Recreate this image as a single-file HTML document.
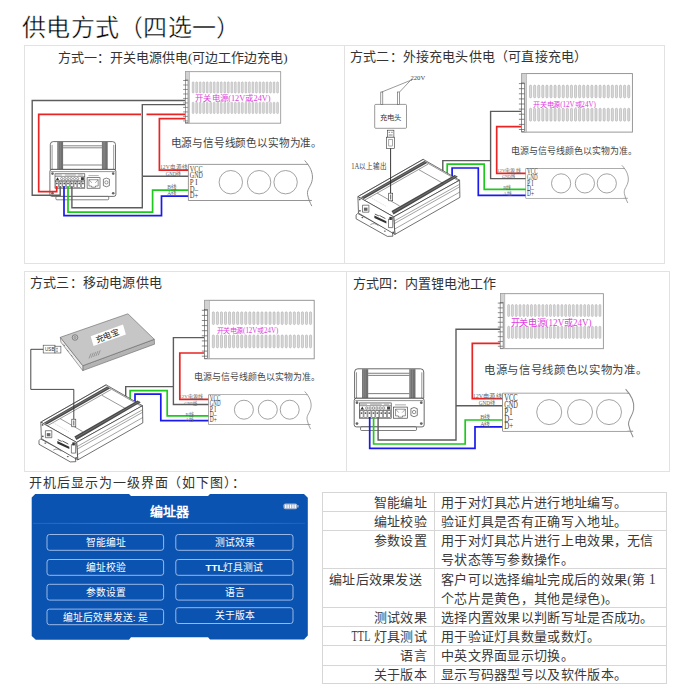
<!DOCTYPE html>
<html lang="zh-CN">
<head>
<meta charset="utf-8">
<style>
*{margin:0;padding:0;box-sizing:border-box}
html,body{width:684px;height:690px;overflow:hidden;background:#fff}
body{position:relative;font-family:"Liberation Serif",serif;color:#222}
.a{position:absolute;white-space:nowrap}
.title{left:22px;top:12px;font-size:24px;letter-spacing:0.3px;line-height:32px;color:#000;-webkit-text-stroke:0.4px #fff}
.pt{font-size:13px;line-height:16px;color:#333}
.bx{position:absolute;border:1px solid #e2e2e2}
#tbl{position:absolute;left:322px;top:492px;width:345px;height:192px}
#tbl .t{margin-top:1px}
#tbl .h{position:absolute;left:0;width:345px;height:1px;background:#d6d6d6}
#tbl .v{position:absolute;top:0;width:1px;height:192px;background:#d6d6d6}
#tbl .t{position:absolute;font-size:13px;letter-spacing:0.3px;line-height:16px;color:#3a3a3a;white-space:nowrap}
svg{position:absolute;left:0;top:0}
</style>
</head>
<body>
<div class="a title">供电方式（四选一）</div>
<div class="bx" style="left:24px;top:45px;width:321px;height:219px"></div>
<div class="bx" style="left:344px;top:45px;width:321px;height:219px"></div>
<div class="bx" style="left:24px;top:271px;width:323px;height:201px"></div>
<div class="bx" style="left:346px;top:271px;width:324px;height:201px"></div>
<div class="a pt" style="left:58px;top:50px">方式一：开关电源供电(可边工作边充电)</div>
<div class="a pt" style="left:350px;top:49px;letter-spacing:0.18px">方式二：外接充电头供电（可直接充电）</div>
<div class="a pt" style="left:30px;top:275px;letter-spacing:0.2px">方式三：移动电源供电</div>
<div class="a pt" style="left:353px;top:276px">方式四：内置锂电池工作</div>
<div class="a pt" style="left:29px;top:475px;letter-spacing:0.95px">开机后显示为一级界面（如下图）：</div>
<svg width="684" height="690" viewBox="0 0 684 690" style="font-family:'Liberation Serif',serif">
<defs><g id="psu">
<rect x="0" y="0" width="110.6" height="58.5" fill="#fff" stroke="#8c8c8c" stroke-width="0.9"/>
<rect x="0" y="0" width="4.7" height="58.5" fill="#d2d2d2" stroke="#9a9a9a" stroke-width="0.5"/>
<rect x="-0.4" y="9.4" width="3.2" height="48.6" fill="#fff" stroke="#555" stroke-width="0.6"/>
<path d="M-2.9 10H2.6 M-2.9 15.1H2.6 M-2.9 20.2H2.6 M-2.9 25.3H2.6 M-2.9 30.4H2.6 M-2.9 35.5H2.6 M-2.9 40.6H2.6 M-2.9 45.7H2.6 M-2.9 50.8H2.6 M-2.9 55.9H2.6" stroke="#555" stroke-width="0.7"/>
<g fill="#dadada" stroke="#a2a2a2" stroke-width="0.5"><rect x="7.7" y="11.5" width="2.1" height="12.8" rx="1.05"/><rect x="7.7" y="34.6" width="2.1" height="13" rx="1.05"/><rect x="11.79" y="11.5" width="2.1" height="12.8" rx="1.05"/><rect x="11.79" y="34.6" width="2.1" height="13" rx="1.05"/><rect x="15.88" y="11.5" width="2.1" height="12.8" rx="1.05"/><rect x="15.88" y="34.6" width="2.1" height="13" rx="1.05"/><rect x="19.97" y="11.5" width="2.1" height="12.8" rx="1.05"/><rect x="19.97" y="34.6" width="2.1" height="13" rx="1.05"/><rect x="24.06" y="11.5" width="2.1" height="12.8" rx="1.05"/><rect x="24.06" y="34.6" width="2.1" height="13" rx="1.05"/><rect x="28.15" y="11.5" width="2.1" height="12.8" rx="1.05"/><rect x="28.15" y="34.6" width="2.1" height="13" rx="1.05"/><rect x="32.24" y="11.5" width="2.1" height="12.8" rx="1.05"/><rect x="32.24" y="34.6" width="2.1" height="13" rx="1.05"/><rect x="36.33" y="11.5" width="2.1" height="12.8" rx="1.05"/><rect x="36.33" y="34.6" width="2.1" height="13" rx="1.05"/><rect x="40.42" y="11.5" width="2.1" height="12.8" rx="1.05"/><rect x="40.42" y="34.6" width="2.1" height="13" rx="1.05"/><rect x="44.51" y="11.5" width="2.1" height="12.8" rx="1.05"/><rect x="44.51" y="34.6" width="2.1" height="13" rx="1.05"/><rect x="48.6" y="11.5" width="2.1" height="12.8" rx="1.05"/><rect x="48.6" y="34.6" width="2.1" height="13" rx="1.05"/><rect x="52.69" y="11.5" width="2.1" height="12.8" rx="1.05"/><rect x="52.69" y="34.6" width="2.1" height="13" rx="1.05"/><rect x="56.78" y="11.5" width="2.1" height="12.8" rx="1.05"/><rect x="56.78" y="34.6" width="2.1" height="13" rx="1.05"/><rect x="60.87" y="11.5" width="2.1" height="12.8" rx="1.05"/><rect x="60.87" y="34.6" width="2.1" height="13" rx="1.05"/><rect x="64.96" y="11.5" width="2.1" height="12.8" rx="1.05"/><rect x="64.96" y="34.6" width="2.1" height="13" rx="1.05"/><rect x="69.05" y="11.5" width="2.1" height="12.8" rx="1.05"/><rect x="69.05" y="34.6" width="2.1" height="13" rx="1.05"/><rect x="73.14" y="11.5" width="2.1" height="12.8" rx="1.05"/><rect x="73.14" y="34.6" width="2.1" height="13" rx="1.05"/><rect x="77.23" y="11.5" width="2.1" height="12.8" rx="1.05"/><rect x="77.23" y="34.6" width="2.1" height="13" rx="1.05"/><rect x="81.32" y="11.5" width="2.1" height="12.8" rx="1.05"/><rect x="81.32" y="34.6" width="2.1" height="13" rx="1.05"/><rect x="85.41" y="11.5" width="2.1" height="12.8" rx="1.05"/><rect x="85.41" y="34.6" width="2.1" height="13" rx="1.05"/><rect x="89.5" y="11.5" width="2.1" height="12.8" rx="1.05"/><rect x="89.5" y="34.6" width="2.1" height="13" rx="1.05"/><rect x="93.59" y="11.5" width="2.1" height="12.8" rx="1.05"/><rect x="93.59" y="34.6" width="2.1" height="13" rx="1.05"/><rect x="97.68" y="11.5" width="2.1" height="12.8" rx="1.05"/><rect x="97.68" y="34.6" width="2.1" height="13" rx="1.05"/><rect x="101.77" y="11.5" width="2.1" height="12.8" rx="1.05"/><rect x="101.77" y="34.6" width="2.1" height="13" rx="1.05"/><rect x="105.86" y="11.5" width="2.1" height="12.8" rx="1.05"/><rect x="105.86" y="34.6" width="2.1" height="13" rx="1.05"/></g>
</g><g id="strip">
<path d="M0 0H98.9 M0 29.8H102 M0 0V29.8" stroke="#8c8c8c" stroke-width="0.8" fill="none"/>
<path d="M96.1 -3.2C100.5 1.5 103.2 7 102.4 12.5C101.6 18 97.6 20.5 98.5 25C99.2 28.6 100.6 31.8 102 34.5" stroke="#8c8c8c" stroke-width="0.8" fill="none"/>
<rect x="0.4" y="0.4" width="97" height="29" fill="#fff"/>
<g font-family="Liberation Serif" font-size="7.4" fill="#3a3a3a"><text x="1.2" y="5.9" textLength="10.6" lengthAdjust="spacingAndGlyphs">VCC</text><text x="1.2" y="11.3" textLength="10.7" lengthAdjust="spacingAndGlyphs">GND</text><text x="1.2" y="17" textLength="6.3" lengthAdjust="spacingAndGlyphs">P I</text><text x="1.2" y="22.5" textLength="6.8" lengthAdjust="spacingAndGlyphs">D–</text><text x="1.2" y="27.8" textLength="7" lengthAdjust="spacingAndGlyphs">D+</text></g>
</g><g id="wl" font-size="4.6" fill="#666"><text x="-23.4" y="3.6" textLength="22.8" lengthAdjust="spacingAndGlyphs">12V电源线</text><text x="-18.7" y="9.5" textLength="13" lengthAdjust="spacingAndGlyphs">GND线</text><text x="-17.5" y="20.3" textLength="8" lengthAdjust="spacingAndGlyphs">B线</text><text x="-17.5" y="25.7" textLength="8" lengthAdjust="spacingAndGlyphs">A线</text></g><g id="front" stroke="#333" stroke-width="0.7">
<path d="M0.4 28V3.2Q0.4 0.2 3.4 0.2H62.6Q65.6 0.2 65.6 3.2V28Z" fill="#fff"/>
<path d="M2.2 28V3.5 M63.8 28V3.5" fill="none" stroke-width="0.5"/>
<rect x="7.4" y="0.5" width="5.8" height="27.5" fill="#707070" stroke="none"/>
<rect x="52" y="0.5" width="5.8" height="27.5" fill="#707070" stroke="none"/>
<path d="M8.6 0.5V28 M10.3 0.5V28 M53.2 0.5V28 M54.9 0.5V28" stroke="#9a9a9a" stroke-width="0.5"/>
<path d="M13.2 4.4H52 M13.2 6.4H52 M13.2 23.6H52" fill="none" stroke-width="0.6"/>
<rect x="0" y="28" width="66" height="27" rx="2" fill="#fff"/>
<path d="M1 30.2H65" stroke-width="0.5" fill="none"/>
<g fill="#666" stroke="none"><circle cx="2.6" cy="32.2" r="1.3"/><circle cx="63.3" cy="32.2" r="1.3"/><circle cx="63.3" cy="51.8" r="1.3"/><circle cx="2.6" cy="51.8" r="1.3"/></g>
<rect x="5.1" y="32.4" width="29.8" height="14.4" fill="#fff" stroke-width="0.6"/>
<path d="M5.1 35H34.9 M5.1 39.2H34.9" stroke-width="0.5" fill="none"/>
<path d="M6 38.6L7.6 35.8L9.2 38.6Z" fill="#333" stroke="none"/>
<circle cx="11.8" cy="37.2" r="1.1" fill="#fff" stroke-width="0.45"/><circle cx="15" cy="37.2" r="1.1" fill="#fff" stroke-width="0.45"/><circle cx="18.2" cy="37.2" r="1.1" fill="#fff" stroke-width="0.45"/><circle cx="21.4" cy="37.2" r="1.1" fill="#fff" stroke-width="0.45"/><circle cx="24.6" cy="37.2" r="1.1" fill="#fff" stroke-width="0.45"/><circle cx="27.8" cy="37.2" r="1.1" fill="#fff" stroke-width="0.45"/>
<rect x="31" y="35.8" width="3" height="2.8" fill="#444" stroke="none"/>
<rect x="5.5" y="39.8" width="2.9" height="6.4" fill="#fff" stroke-width="0.45"/><circle cx="6.95" cy="42" r="0.9" fill="#555" stroke="none"/><rect x="9.22" y="39.8" width="2.9" height="6.4" fill="#fff" stroke-width="0.45"/><circle cx="10.67" cy="42" r="0.9" fill="#555" stroke="none"/><rect x="12.94" y="39.8" width="2.9" height="6.4" fill="#fff" stroke-width="0.45"/><circle cx="14.39" cy="42" r="0.9" fill="#555" stroke="none"/><rect x="16.66" y="39.8" width="2.9" height="6.4" fill="#fff" stroke-width="0.45"/><circle cx="18.11" cy="42" r="0.9" fill="#555" stroke="none"/><rect x="20.38" y="39.8" width="2.9" height="6.4" fill="#fff" stroke-width="0.45"/><circle cx="21.83" cy="42" r="0.9" fill="#555" stroke="none"/><rect x="24.1" y="39.8" width="2.9" height="6.4" fill="#fff" stroke-width="0.45"/><circle cx="25.55" cy="42" r="0.9" fill="#555" stroke="none"/><rect x="27.82" y="39.8" width="2.9" height="6.4" fill="#fff" stroke-width="0.45"/><circle cx="29.27" cy="42" r="0.9" fill="#555" stroke="none"/><rect x="31.54" y="39.8" width="2.9" height="6.4" fill="#fff" stroke-width="0.45"/><circle cx="32.99" cy="42" r="0.9" fill="#555" stroke="none"/>
<path d="M5.6 33.6H12 M15 33.6H26 M28 33.6H33" stroke="#777" stroke-width="0.6"/>
<rect x="37.2" y="36.3" width="12.9" height="10.5" fill="#fff" stroke-width="0.6"/>
<path d="M39 38.3H48.3V44.6H45.6V45.8H41.7V44.6H39Z" fill="none" stroke-width="0.5"/>
<path d="M39 38.3L42 41.5M48.3 38.3L45.3 41.5" fill="none" stroke-width="0.4"/>
<path d="M38.5 34.2H48.8" stroke="#777" stroke-width="0.6"/>
<path d="M53.5 37.8Q56.5 35.6 59.5 37.8V44.2Q56.5 46.6 53.5 44.2Z" fill="#fff" stroke-width="0.6"/>
<circle cx="56.5" cy="41" r="1.6" fill="none" stroke-width="0.5"/>
<rect x="6" y="55" width="52.8" height="3.4" rx="1" fill="#fff" stroke-width="0.6"/>
</g><g id="iso" stroke="#333" stroke-width="0.7" stroke-linejoin="round">
<polygon points="-1.8,18.5 -0.2,16.8 34.5,35.6 35,39.6 29.5,39.8 -1.8,22.2" fill="#fff"/>
<ellipse cx="4.5" cy="21" rx="1" ry="0.6" fill="#555" stroke="none"/><ellipse cx="27" cy="34.5" rx="1" ry="0.6" fill="#555" stroke="none"/>
<path d="M12.5 28Q16.5 25.5 20.5 29.2" fill="none" stroke-width="0.5"/>
<polygon points="0,0 65.2,-37.3 101.7,-16.4 35.8,20.3" fill="#fff"/>
<polygon points="35.8,20.3 101.7,-16.4 102,0.8 37,37.8" fill="#fff"/>
<polygon points="0,0 35.8,20.3 37,37.8 0.6,16.5" fill="#fff"/>
<path d="M1.5 -0.9L65.5 -37.3 M66 -35.6L101 -15.6" fill="none" stroke-width="0.5"/>
<polygon points="3,0.6 66.2,-35.5 69.2,-33.7 6,2.4" fill="#4a4a4a" stroke="none"/>
<path d="M4.2 1.3L67.6 -34.7" stroke="#9a9a9a" stroke-width="0.5"/>
<path d="M6.8 3.6L70.2 -32.5" stroke="#333" stroke-width="0.5"/>
<polygon points="33.6,14.4 96.7,-21.6 100,-19.8 35.6,17.8" fill="#4a4a4a" stroke="none"/>
<path d="M34.6 16L98.4 -20.6" stroke="#9a9a9a" stroke-width="0.5"/>
<path d="M19.3 -3.5L41.8 9.4 M61.1 -26.8L85.3 -13.2" fill="none" stroke-width="0.5"/>
<path d="M12 0.5L28 9.6" fill="none" stroke="#999" stroke-width="0.4" stroke-dasharray="1.2 1"/>
<path d="M36.2 24.5L101.5 -12.2 M36.4 27L101.6 -9.7 M36.7 32.5L101.8 -4.5" fill="none" stroke-width="0.45"/>
<rect x="4.6" y="8.6" width="6.4" height="7" fill="#fff" stroke-width="0.6"/>
<rect x="6" y="11" width="3.6" height="3.2" fill="#666" stroke="none"/>
<polygon points="16.5,19 28.5,24.6 28.5,26.8 16.5,21.3" fill="#333" stroke="none"/>
<path d="M17 17.5L21 19.3 M21.5 18.8L27.5 22" stroke-width="0.8"/>
<rect x="30.6" y="22.5" width="4.2" height="8.5" fill="#fff" stroke-width="0.6"/>
<rect x="31.5" y="20.3" width="2.4" height="3" fill="#333" stroke="none"/>
<g fill="#555" stroke="none"><circle cx="1.8" cy="2.8" r="0.9"/><circle cx="34.2" cy="21.4" r="0.9"/><circle cx="35.3" cy="35.8" r="0.9"/><circle cx="2" cy="14.2" r="0.9"/></g>
</g></defs>
<use href="#front" transform="translate(49.9 141.4) scale(1 1)"/>
<path d="M142.3 176.3 L142.3 207.8 L71.9 207.8 L71.9 186" fill="none" stroke="#5c5c5c" stroke-width="1.4" stroke-linejoin="miter"/>
<path d="M32.2 190 L32.2 100.5 L185 100.5" fill="none" stroke="#5c5c5c" stroke-width="1.4" stroke-linejoin="miter"/>
<path d="M60.2 186 L60.2 195.2 L32.2 195.2 L32.2 190" fill="none" stroke="#5c5c5c" stroke-width="1.4" stroke-linejoin="miter"/>
<path d="M142.3 176.3 L142.3 104.6 L185 104.6" fill="none" stroke="#5c5c5c" stroke-width="1.4" stroke-linejoin="miter"/>
<path d="M142.3 176.3 L188.4 176.3" fill="none" stroke="#5c5c5c" stroke-width="1.4" stroke-linejoin="miter"/>
<path d="M56.7 186 L56.7 191.6 L38.7 191.6 L38.7 114.3 L141 114.3" fill="none" stroke="#e82424" stroke-width="1.7" stroke-linejoin="miter"/>
<path d="M146.5 114.3 L185 114.3" fill="none" stroke="#e82424" stroke-width="1.7" stroke-linejoin="miter"/>
<path d="M185 118.6 L159.4 118.6 L159.4 170.2 L188.4 170.2" fill="none" stroke="#e82424" stroke-width="1.7" stroke-linejoin="miter"/>
<path d="M68 186 L68 212.2 L152.6 212.2 L152.6 190.1 L188.4 190.1" fill="none" stroke="#1ec81e" stroke-width="1.7" stroke-linejoin="miter"/>
<path d="M64 186 L64 215.7 L161.5 215.7 L161.5 196.1 L188.4 196.1" fill="none" stroke="#1a1aec" stroke-width="1.7" stroke-linejoin="miter"/>
<use href="#psu" transform="translate(185.6 71.7) scale(0.86 0.88)"/>
<text x="195" y="101.1" font-size="8" fill="#e03de0" textLength="75.6" lengthAdjust="spacingAndGlyphs">开关电源(12V或24V)</text>
<use href="#strip" transform="translate(188.4 164.4) scale(1.21 1.21)"/>
<g fill="none" stroke="#8c8c8c" stroke-width="0.8"><circle cx="230.8" cy="182.2" r="11.7"/><circle cx="259.1" cy="182.2" r="11.7"/><circle cx="285.6" cy="182.2" r="11.7"/></g>
<use href="#wl" transform="translate(188.4 164.4) scale(1.21 1.21)"/>
<text x="170.7" y="146.54" font-size="10.8" fill="#444" textLength="151.22" lengthAdjust="spacingAndGlyphs">电源与信号线颜色以实物为准。</text>
<g stroke="#555" stroke-width="0.6" fill="#fff"><rect x="374.7" y="104.4" width="31.8" height="23.9" rx="1"/><rect x="380.8" y="92" width="2" height="12.4"/><rect x="397.6" y="92" width="2" height="12.4"/><path d="M381.8 92L410.5 80.4L399.6 92 M410.5 80.4H412" fill="none"/></g>
<text x="380" y="120.2" font-size="7.4" fill="#333" textLength="21" lengthAdjust="spacingAndGlyphs">充电头</text>
<text x="410.5" y="80.2" font-size="6.6" font-family="Liberation Serif" fill="#444" textLength="14.7" lengthAdjust="spacingAndGlyphs">220V</text>
<g stroke="#333" stroke-width="0.6" fill="#fff"><rect x="387.3" y="130.2" width="6.6" height="7"/><rect x="386.6" y="137.2" width="8" height="11.2"/></g>
<path d="M388.6 132.3h1.5 M391.2 132.3h1.5 M388.6 135h4" stroke="#333" stroke-width="0.6"/>
<rect x="388.8" y="139.5" width="3.6" height="6.5" fill="none" stroke="#555" stroke-width="0.5"/>
<text x="351.3" y="168.6" font-size="7.6" fill="#444" textLength="35.8" lengthAdjust="spacingAndGlyphs">1A以上输出</text>
<path d="M442.8 172 L442.8 160.6 L490.6 160.6" fill="none" stroke="#5c5c5c" stroke-width="1.4" stroke-linejoin="miter"/>
<path d="M521.8 111.4 L490.6 111.4 L490.6 178.6 L525.8 178.6" fill="none" stroke="#5c5c5c" stroke-width="1.4" stroke-linejoin="miter"/>
<path d="M521.8 126.7 L496.7 126.7 L496.7 173.3 L525.8 173.3" fill="none" stroke="#e82424" stroke-width="1.7" stroke-linejoin="miter"/>
<path d="M447.2 176 L447.2 164.2 L484.2 164.2 L484.2 189.3 L525.8 189.3" fill="none" stroke="#1ec81e" stroke-width="1.7" stroke-linejoin="miter"/>
<path d="M452.1 179 L452.1 168 L478.3 168 L478.3 195.3 L525.8 195.3" fill="none" stroke="#1a1aec" stroke-width="1.7" stroke-linejoin="miter"/>
<use href="#iso" transform="translate(357.9 196.6) scale(1 1)"/>
<path d="M390.6 148.4V200" stroke="#222" stroke-width="0.9"/>
<rect x="388.7" y="193.2" width="4" height="7.6" fill="#fff" stroke="#333" stroke-width="0.6"/>
<path d="M390.7 194.5V199.5" stroke="#333" stroke-width="0.8"/>
<use href="#psu" transform="translate(521.8 73.6) scale(1 1)"/>
<text x="533.4" y="106.66" font-size="7.4" fill="#e03de0" textLength="62.5" lengthAdjust="spacingAndGlyphs">开关电源(12V或24V)</text>
<use href="#strip" transform="translate(525.8 168.5) scale(1 1)"/>
<g fill="none" stroke="#8c8c8c" stroke-width="0.8"><circle cx="561.1" cy="183.4" r="9.6"/><circle cx="584.9" cy="183.4" r="9.6"/><circle cx="606.8" cy="183.4" r="9.6"/></g>
<use href="#wl" transform="translate(521.2 168.5) scale(1.03 1.03)"/>
<text x="511.43" y="154.06" font-size="8.95" fill="#444" textLength="125.25" lengthAdjust="spacingAndGlyphs">电源与信号线颜色以实物为准。</text>
<path d="M125.7 398 L125.7 386.6 L173.4 386.6" fill="none" stroke="#5c5c5c" stroke-width="1.4" stroke-linejoin="miter"/>
<path d="M204.7 337.6 L173.4 337.6 L173.4 404.5 L208.6 404.5" fill="none" stroke="#5c5c5c" stroke-width="1.4" stroke-linejoin="miter"/>
<path d="M204.7 353 L179.8 353 L179.8 399.4 L208.6 399.4" fill="none" stroke="#e82424" stroke-width="1.7" stroke-linejoin="miter"/>
<path d="M130.1 402 L130.1 390.6 L167.2 390.6 L167.2 415.8 L208.6 415.8" fill="none" stroke="#1ec81e" stroke-width="1.7" stroke-linejoin="miter"/>
<path d="M135 405 L135 394.1 L160.8 394.1 L160.8 420.6 L208.6 420.6" fill="none" stroke="#1a1aec" stroke-width="1.7" stroke-linejoin="miter"/>
<g stroke="#666" stroke-width="0.6" stroke-linejoin="round"><polygon points="82.8,365.7 154.3,339.3 154.5,344.2 82.8,370.6" fill="#b4b4b4"/><polygon points="60.3,337.3 82.8,365.7 82.8,370.6 60.9,342.2" fill="#ececec"/><polygon points="60.3,337.3 127.9,313.8 154.3,339.3 82.8,365.7" fill="#c6c6c6"/></g>
<polygon points="90.7,336.3 123,324.6 125.9,334.4 93.6,346.1" fill="#fff"/>
<text transform="translate(96.5 342.8) rotate(-20)" font-size="8.4" fill="#222" textLength="24" lengthAdjust="spacingAndGlyphs">充电宝</text>
<circle cx="75" cy="337.5" r="2.8" fill="none" stroke="#555" stroke-width="0.6"/><circle cx="75" cy="337.5" r="1" fill="none" stroke="#555" stroke-width="0.4"/>
<path d="M89 358.5L91 353.5 M91.3 357.7L93.3 352.7 M93.6 356.9L95.6 351.9 M95.9 356.1L97.9 351.1 M98.2 355.3L100.2 350.3" stroke="#777" stroke-width="0.6"/>
<path d="M63.5 344.5l1.5 1.5 M67 350l1.5 1.5 M71 355l1.5 1.5" stroke="#777" stroke-width="0.8"/>
<g stroke="#444" stroke-width="0.6" fill="#fff"><rect x="43.2" y="345.2" width="11.8" height="7.8"/><rect x="55" y="346.2" width="5.9" height="6.8"/></g>
<text x="45" y="351.3" font-size="4.6" font-family="Liberation Sans" fill="#333">USB</text>
<path d="M57 347.8v1.6 M57 350.5v1.6" stroke="#333" stroke-width="0.8"/>
<use href="#iso" transform="translate(40.8 422.1) scale(1 1)"/>
<path d="M43.2 349.3 L30.8 349.3 L30.8 389.4 L73.8 389.4 L73.8 426" fill="none" stroke="#333" stroke-width="0.9" stroke-linejoin="miter"/>
<rect x="71.8" y="419.2" width="4" height="7.6" fill="#fff" stroke="#333" stroke-width="0.6"/>
<path d="M73.8 420.5V425.5" stroke="#333" stroke-width="0.8"/>
<use href="#psu" transform="translate(204.7 300.3) scale(0.99 1)"/>
<text x="216.7" y="333.36" font-size="7.4" fill="#e03de0" textLength="61.6" lengthAdjust="spacingAndGlyphs">开关电源(12V或24V)</text>
<use href="#strip" transform="translate(208.6 394.7) scale(1 1)"/>
<g fill="none" stroke="#8c8c8c" stroke-width="0.8"><circle cx="243.9" cy="409.7" r="9.5"/><circle cx="267.8" cy="409.7" r="9.5"/><circle cx="289.7" cy="409.7" r="9.5"/></g>
<use href="#wl" transform="translate(203.6 394.7) scale(1.04 1.04)"/>
<text x="194.43" y="380.26" font-size="8.95" fill="#444" textLength="125.25" lengthAdjust="spacingAndGlyphs">电源与信号线颜色以实物为准。</text>
<use href="#front" transform="translate(354.2 368.6) scale(1.06 1.06)"/>
<path d="M378.1 417 L378.1 440 L456 440 L456 329.3 L500.5 329.3" fill="none" stroke="#5c5c5c" stroke-width="1.4" stroke-linejoin="miter"/>
<path d="M456 405.8 L502.6 405.8" fill="none" stroke="#5c5c5c" stroke-width="1.4" stroke-linejoin="miter"/>
<path d="M500.5 343.3 L472.3 343.3 L472.3 398.6 L502.6 398.6" fill="none" stroke="#e82424" stroke-width="1.7" stroke-linejoin="miter"/>
<path d="M373.6 417 L373.6 444 L465.2 444 L465.2 420 L502.6 420" fill="none" stroke="#1ec81e" stroke-width="1.7" stroke-linejoin="miter"/>
<path d="M369.7 417 L369.7 448.4 L475 448.4 L475 426.8 L502.6 426.8" fill="none" stroke="#1a1aec" stroke-width="1.7" stroke-linejoin="miter"/>
<use href="#psu" transform="translate(500.5 293.7) scale(0.93 0.94)"/>
<text x="510.7" y="325.86" font-size="9.4" fill="#e03de0" textLength="80.9" lengthAdjust="spacingAndGlyphs">开关电源(12V或24V)</text>
<use href="#strip" transform="translate(502.6 393.2) scale(1.28 1.28)"/>
<g fill="none" stroke="#8c8c8c" stroke-width="0.8"><circle cx="549.2" cy="412.1" r="12.5"/><circle cx="580" cy="412.1" r="12.5"/><circle cx="609" cy="412.1" r="12.5"/></g>
<use href="#wl" transform="translate(502.6 393.2) scale(1.28 1.28)"/>
<text x="484.1" y="373.7" font-size="11.66" fill="#444" textLength="163.3" lengthAdjust="spacingAndGlyphs">电源与信号线颜色以实物为准。</text>
</svg>

<svg width="684" height="690" viewBox="0 0 684 690" style="font-family:'Liberation Sans',sans-serif">
  <path d="M31.7 497.5 L35.2 494 L129 494 L131 496 L208 496 L210 494 L304 494 L307.8 497.8 L307.8 635.6 L304 639.6 L210 639.6 L208 637.3 L131 637.3 L129 639.7 L35.8 639.7 L31.7 636 Z" fill="#0b53b0"/>
  <defs><linearGradient id="hl" x1="0" x2="1" y1="0" y2="0"><stop offset="0" stop-color="#3f7ccc" stop-opacity="0.5"/><stop offset="0.3" stop-color="#3f7ccc"/><stop offset="0.7" stop-color="#3f7ccc"/><stop offset="1" stop-color="#3f7ccc" stop-opacity="0.4"/></linearGradient></defs><rect x="33" y="522.9" width="272" height="0.9" fill="url(#hl)"/>
  <text x="169.5" y="515.6" fill="#fff" font-size="13" font-weight="bold" text-anchor="middle">编址器</text>
  <g fill="none" stroke="#a9c4ec" stroke-width="0.9">
    <rect x="47" y="534.5" width="116.6" height="15.8" rx="2.5"/>
    <rect x="47" y="559.5" width="116.6" height="15.8" rx="2.5"/>
    <rect x="47" y="584.3" width="116.6" height="15.8" rx="2.5"/>
    <rect x="47" y="609.1" width="116.6" height="15.6" rx="2.5"/>
    <rect x="175.8" y="534.5" width="117.2" height="15.8" rx="2.5"/>
    <rect x="175.8" y="559.5" width="117.2" height="15.8" rx="2.5"/>
    <rect x="175.8" y="584.3" width="117.2" height="15.8" rx="2.5"/>
    <rect x="175.8" y="607.7" width="117.2" height="15.8" rx="2.5"/>
  </g>
  <g fill="#fff" font-size="9.8" text-anchor="middle" font-weight="500">
    <text x="105.5" y="546">智能编址</text>
    <text x="105.5" y="571">编址校验</text>
    <text x="105.5" y="595.8">参数设置</text>
    <text x="105.5" y="620.5">编址后效果发送: 是</text>
    <text x="234.5" y="546">测试效果</text>
    <text x="234.5" y="571"><tspan font-weight="bold">TTL</tspan>灯具测试</text>
    <text x="234.5" y="595.8">语言</text>
    <text x="234.5" y="619.3">关于版本</text>
  </g>
  <rect x="283.4" y="503.4" width="14" height="5.8" rx="2.2" fill="#9fb2d2"/>
  <rect x="297.3" y="505.1" width="1.3" height="2.5" rx="0.5" fill="#9fb2d2"/>
  <g fill="#fff"><rect x="285.1" y="504.6" width="1.3" height="3.5"/><rect x="287.5" y="504.6" width="1.3" height="3.5"/><rect x="289.9" y="504.6" width="1.3" height="3.5"/><rect x="292.3" y="504.6" width="1.3" height="3.5"/><rect x="294.6" y="504.6" width="1.3" height="3.5"/></g>
</svg>


<div id="tbl">
  <div class="h" style="top:0"></div>
  <div class="h" style="top:19px"></div>
  <div class="h" style="top:38px"></div>
  <div class="h" style="top:76px"></div>
  <div class="h" style="top:115px"></div>
  <div class="h" style="top:134px"></div>
  <div class="h" style="top:153px"></div>
  <div class="h" style="top:173px"></div>
  <div class="h" style="top:191px"></div>
  <div class="v" style="left:0"></div>
  <div class="v" style="left:112px"></div>
  <div class="v" style="left:344px"></div>
  <div class="t" style="right:240px;top:2px">智能编址</div>
  <div class="t" style="right:240px;top:21px">编址校验</div>
  <div class="t" style="right:240px;top:40px">参数设置</div>
  <div class="t" style="left:7px;top:79px">编址后效果发送</div>
  <div class="t" style="right:240px;top:117px">测试效果</div>
  <div class="t" style="right:240px;top:136px"><span style="display:inline-block;font-size:14px;transform:scaleX(0.72);transform-origin:100% 50%;margin-left:-7px">TTL</span> 灯具测试</div>
  <div class="t" style="right:240px;top:155px">语言</div>
  <div class="t" style="right:240px;top:174px">关于版本</div>
  <div class="t" style="left:119px;top:2px">用于对灯具芯片进行地址编写。</div>
  <div class="t" style="left:119px;top:21px">验证灯具是否有正确写入地址。</div>
  <div class="t" style="left:119px;top:40px">用于对灯具芯片进行上电效果，无信</div>
  <div class="t" style="left:119px;top:59px">号状态等写参数操作。</div>
  <div class="t" style="left:119px;top:79px">客户可以选择编址完成后的效果(第 <span style="font-size:14px">1</span></div>
  <div class="t" style="left:119px;top:98px">个芯片是黄色，其他是绿色)。</div>
  <div class="t" style="left:119px;top:117px">选择内置效果以判断写址是否成功。</div>
  <div class="t" style="left:119px;top:136px">用于验证灯具数量或数灯。</div>
  <div class="t" style="left:119px;top:155px">中英文界面显示切换。</div>
  <div class="t" style="left:119px;top:174px">显示写码器型号以及软件版本。</div>
</div>

</body>
</html>
